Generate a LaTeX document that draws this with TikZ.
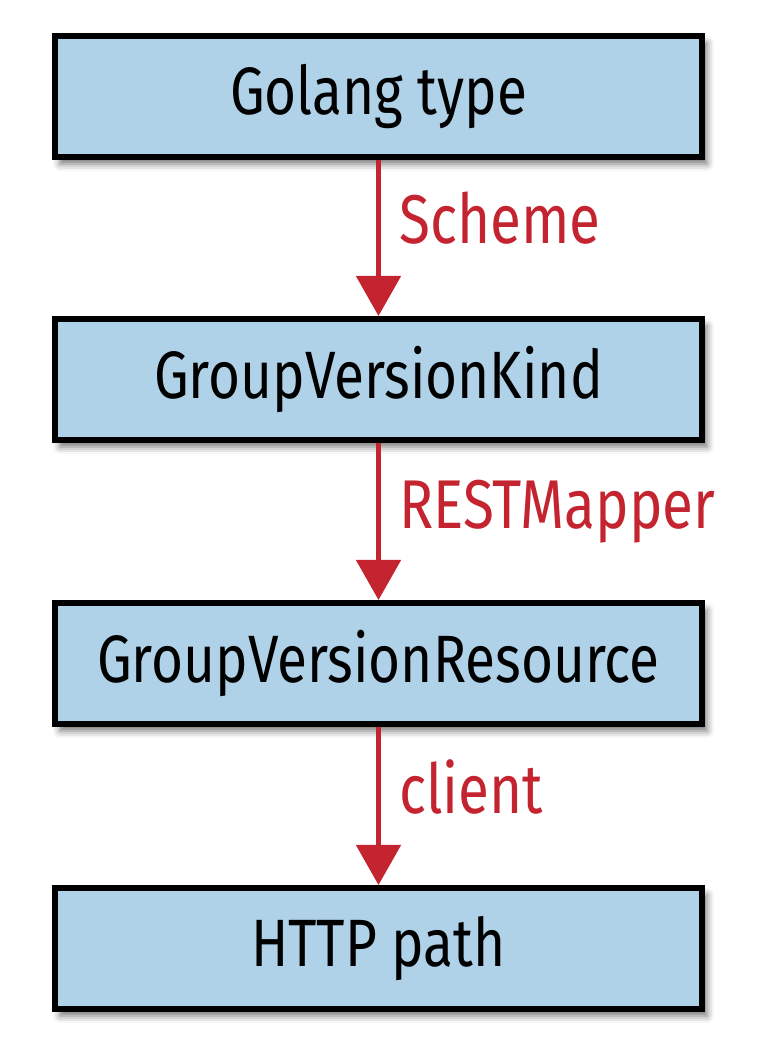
\documentclass[tikz,border=0pt]{standalone}
\usepackage{fontspec}
\setmainfont{Fira Sans}[FakeStretch=0.82]
\usetikzlibrary{shadows.blur,arrows.meta}
\definecolor{boxblue}{RGB}{176,210,233}
\definecolor{arrred}{RGB}{196,36,48}
\tikzset{
  box/.style={draw=black, line width=6pt, fill=boxblue, minimum width=647pt, minimum height=121pt,
    inner sep=0pt, font=\fontsize{67}{76}\selectfont,
    blur shadow={shadow xshift=5pt, shadow yshift=-7pt, shadow blur radius=7pt, shadow opacity=55}},
  conn/.style={draw=arrred, line width=5pt, -{Triangle[width=44pt,length=40pt]}, color=arrred},
  lbl/.style={text=arrred, anchor=base west, inner sep=0pt, font=\fontsize{69}{78}\selectfont}
}
\begin{document}
\begin{tikzpicture}[x=1pt,y=1pt]
\useasboundingbox (0,0) rectangle (774,1046);
\node[box] (a) at (378.5,949.5) {Golang type};
\node[box] (b) at (378.5,666.5) {GroupVersionKind};
\node[box] (c) at (378.5,382.5) {GroupVersionResource};
\node[box] (d) at (378.5,97.5) {HTTP path};
\draw[conn] (a.south) -- (b.north);
\draw[conn] (b.south) -- (c.north);
\draw[conn] (c.south) -- (d.north);
\node[lbl] (la) at (399,802) {Scheme};
\node[lbl] (lb) at (399,517) {RESTMapper};
\node[lbl] (lc) at (399,232) {client};
\end{tikzpicture}
\end{document}
